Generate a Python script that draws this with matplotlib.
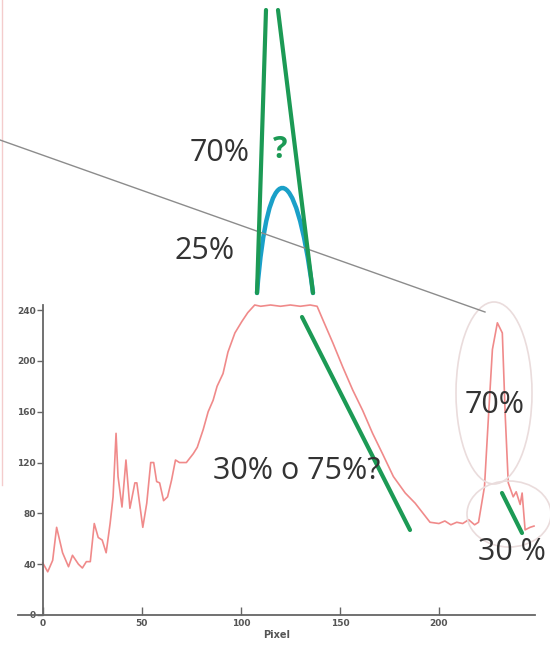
import matplotlib
matplotlib.use("Agg")
import matplotlib.pyplot as plt
from matplotlib.patches import Ellipse, PathPatch
from matplotlib.path import Path

# ---- data (intensity profile) ----
pixel_x = [0, 2.5, 5, 7, 10, 13, 15, 18, 20, 22, 24, 26, 28, 30, 32, 34, 35.5, 37, 38, 40,
           42, 44, 46.5, 47.5, 50.5, 52.5, 54.5, 56, 57.5, 59, 61, 63, 65, 67, 69, 72.5, 76, 78,
           81, 83.5, 86, 88, 91, 93.5, 97, 100.5, 103.5, 107, 110, 115, 120, 125, 130, 135,
           138.5, 141.5, 146.5, 151.5, 156.5, 161.5, 166.5, 171.5, 177, 183, 188, 192, 195.5,
           200, 203, 206, 209, 212, 215, 218, 220, 223, 225, 227, 229.5, 232, 233.5, 235,
           237.5, 239, 241, 242, 243.5, 246, 248]
intensity = [41, 34, 43, 69, 49, 38, 47, 40, 37, 42, 42, 72, 61, 59, 49, 72, 93, 143, 109, 85,
             122, 84, 104, 104, 69, 88, 120, 120, 105, 104, 90, 93, 106, 122, 120, 120, 127, 132,
             146, 160, 169, 180, 190, 207, 222, 231, 238, 244, 243, 244, 243, 244, 243, 244,
             243, 232, 214, 195, 177, 161, 143, 127, 109, 96, 88, 80, 73,
             72, 74, 71, 73, 72, 75, 71, 73, 101, 156, 209, 230, 222, 156, 104,
             93, 97, 87, 96, 67, 69, 70]
x_ticks = [0, 50, 100, 150, 200]
y_ticks = [0, 40, 80, 120, 160, 200, 240]
x_label = "Pixel"

W, H = 550, 648
fig = plt.figure(figsize=(W / 100, H / 100), dpi=100)
fig.patch.set_facecolor("white")

# plot axes (pixel geometry of reference)
left_px, right_px, top_px, bot_px = 18, 535, 305, 615
ax = fig.add_axes([left_px / W, 1 - bot_px / H, (right_px - left_px) / W, (bot_px - top_px) / H])
ax.set_xlim(-12.5, 248.5)
ax.set_ylim(0, 244)
ax.plot(pixel_x, intensity, color="#f08a8a", lw=1.2, clip_on=False)
for s in ("top", "right"):
    ax.spines[s].set_visible(False)
ax.spines["left"].set_position(("data", 0))
ax.spines["left"].set_color("#666666")
ax.spines["bottom"].set_color("#666666")
ax.spines["left"].set_linewidth(1.3)
ax.spines["bottom"].set_linewidth(1.3)
ax.set_xticks(x_ticks)
ax.set_yticks(y_ticks)
ax.tick_params(axis="x", direction="in", length=6, width=1, colors="#666666",
               labelsize=6.5, labelcolor="#555555", pad=3)
ax.tick_params(axis="y", direction="out", length=4, width=1, colors="#666666",
               labelsize=6.5, labelcolor="#555555", pad=1)
for lab in ax.get_xticklabels() + ax.get_yticklabels():
    lab.set_fontweight("bold")
ax.set_xlabel(x_label, fontsize=7, fontweight="bold", color="#555555", labelpad=1)
ax.patch.set_alpha(0)

# overlay annotations in pixel coordinates
ov = fig.add_axes([0, 0, 1, 1])
ov.set_xlim(0, W)
ov.set_ylim(H, 0)
ov.axis("off")
ov.patch.set_alpha(0)

ov.plot([2, 2], [0, 485], color="#f4cccc", lw=1)
ov.plot([0, 485], [140, 312], color="#8c8c8c", lw=1)
ov.add_patch(Ellipse((494, 393), 76, 182, fill=False, ec="#eadcdc", lw=1.2))
ov.add_patch(Ellipse((509, 514), 84, 66, fill=False, ec="#eadcdc", lw=1.2))

green = "#1c9a55"
ov.plot([266, 257], [10, 293], color=green, lw=3, solid_capstyle="round")
ov.plot([278, 313], [10, 293], color=green, lw=3, solid_capstyle="round")
ov.plot([302, 410], [317, 530], color=green, lw=3, solid_capstyle="round")
ov.plot([502, 522], [493, 533], color=green, lw=3, solid_capstyle="round")

arch = Path([(257, 293), (268, 153), (295, 153), (313, 293)],
            [Path.MOVETO, Path.CURVE4, Path.CURVE4, Path.CURVE4])
ov.add_patch(PathPatch(arch, fill=False, ec="#1aa0c8", lw=3.2, capstyle="round"))

txt = dict(fontsize=22, color="#333333", family=["Open Sans", "DejaVu Sans"],
           ha="center", va="center")
ov.text(220, 153, "70%", **txt)
ov.text(205, 251, "25%", **txt)
ov.text(297, 471, "30% o 75%?", **txt)
ov.text(495, 405, "70%", **txt)
ov.text(512, 552, "30 %", **txt)
ov.text(280, 150, "?", fontsize=22, color=green, fontweight="bold",
        family=["Open Sans", "DejaVu Sans"], ha="center", va="center")

fig.savefig("out.png", dpi=100)
